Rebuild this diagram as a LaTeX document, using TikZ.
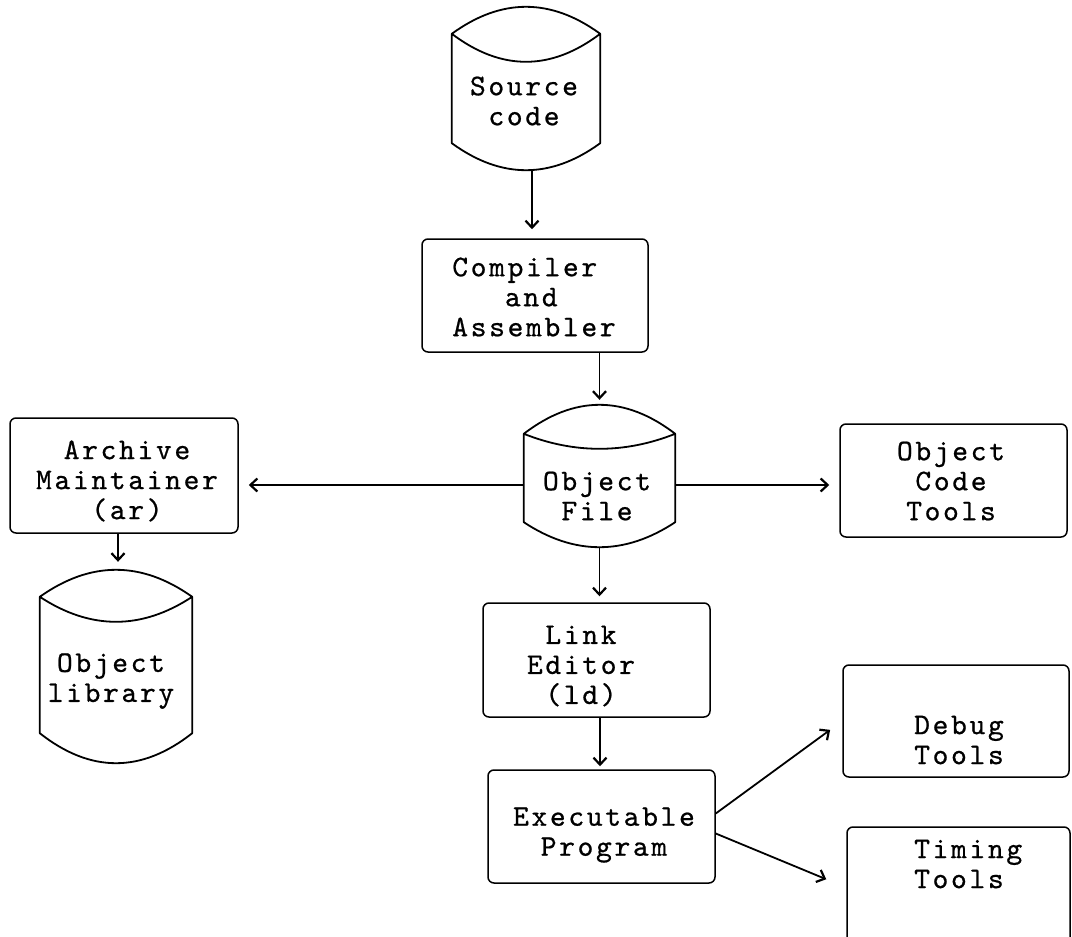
\documentclass[tikz,border=0pt]{standalone}
\usepackage{fontspec}
\usetikzlibrary{arrows.meta,calc}
\newfontfamily\twfam{lmmono10-regular.otf}[LetterSpace=9,FakeBold=0.7]
\newcommand\twfont{\twfam\fontsize{30}{30}\selectfont}
\tikzset{
 box/.style={draw, rounded corners=6pt, line width=1.5pt, inner sep=0pt},
 txt/.style={font=\twfont, align=center, inner sep=0pt},
 cylnode/.style={inner sep=0pt, draw=none},
 cylline/.style={line width=1.8pt, line join=round},
 arr/.style={line width=1.8pt, -{Straight Barb[length=7pt,width=13pt,line width=2.2pt]}},
}
% #1 name, #2 top sagitta (peak to corner), #3 inner sagitta below corner, #4 bottom sagitta
\newcommand\drawcyl[4]{%
 \draw[cylline] ($(#1.north west)+(0,#2)$) coordinate (#1-tl)
   .. controls ($(#1.north west)!0.3333!(#1.north east)+(0,{-#2/3})$)
   and ($(#1.north west)!0.6667!(#1.north east)+(0,{-#2/3})$)
   .. ($(#1.north east)+(0,#2)$) coordinate (#1-tr)
   .. controls ($(#1.north west)!0.6667!(#1.north east)+(0,{#2+4*#3/3})$)
   and ($(#1.north west)!0.3333!(#1.north east)+(0,{#2+4*#3/3})$)
   .. (#1-tl)
   -- ($(#1.south west)+(0,-#4)$)
   .. controls ($(#1.south west)!0.3333!(#1.south east)+(0,{#4/3})$)
   and ($(#1.south west)!0.6667!(#1.south east)+(0,{#4/3})$)
   .. ($(#1.south east)+(0,-#4)$) -- (#1-tr);
}
\begin{document}
\begin{tikzpicture}[x=1pt,y=-1pt]
\useasboundingbox (0,0) rectangle (1072,937);
\fill[white] (0,0) rectangle (1072,937);
\clip (0,0) rectangle (1072,937);

% cylinders
\node[cylnode, minimum width=148pt, minimum height=163pt] (src) at (526,88.5) {};
\drawcyl{src}{27}{28}{27}
\node[txt] (srct) at (524,101) {Source\\code};

\node[cylnode, minimum width=151pt, minimum height=142pt] (objf) at (599.5,476) {};
\drawcyl{objf}{29}{15}{25}
\node[txt] (objft) at (597,496) {Object\\File};

\node[cylnode, minimum width=152pt, minimum height=193pt] (lib) at (116,666.5) {};
\drawcyl{lib}{27}{25}{30}
\node[txt] (libt) at (111,681) {Object\\library};

% boxes
\node[box, minimum width=226pt, minimum height=113pt] (comp) at (535,295.5) {};
\node[txt, align=left] (compt) at (534,297) {Compiler\\\phantom{xxx}and\\Assembler};

\node[box, minimum width=228pt, minimum height=115pt] (arch) at (124,475.5) {};
\node[txt] (archt) at (127,481) {Archive\\Maintainer\\(ar)};

\node[box, minimum width=227pt, minimum height=113pt] (oct) at (953.5,480.5) {};
\node[txt] (octt) at (951,481) {Object\\Code\\Tools};

\node[box, minimum width=227pt, minimum height=114pt] (link) at (596.5,660) {};
\node[txt] (linkt) at (581,666) {Link\\Editor\\(ld)};

\node[box, minimum width=227pt, minimum height=113pt] (exe) at (601.5,826.5) {};
\node[txt] (exet) at (604,835) {Executable\\Program};

\node[box, minimum width=226pt, minimum height=112pt] (debug) at (956,721) {};
\node[txt] (debugt) at (959,740) {Debug\\Tools};

\node[box, minimum width=223pt, minimum height=133pt] (timing) at (958.5,893.5) {};
\node[txt, align=left, anchor=west] (timingt) at (914,864) {Timing\\Tools};

% connectors
\draw[arr, shorten >=9pt] ([xshift=6pt]src.south) -- ([xshift=6pt]src.south |- comp.north);
\draw[arr, shorten >=5pt] (comp.south -| objf.north) -- (objf.north);
\draw[arr, shorten >=6pt] (objf.south) -- (objf.south |- link.north);
\draw[arr, shorten >=3pt] ([xshift=3.5pt]link.south) -- ([xshift=3.5pt]link.south |- exe.north);
\draw[arr, shorten >=8pt] ([xshift=-6pt]arch.south) -- ([xshift=-6pt]arch.south |- lib.north);

\coordinate (ofl) at ($(objf.west)+(0,9)$);
\coordinate (ofr) at ($(objf.east)+(0,9)$);
\draw[arr, shorten >=10pt] (ofl) -- (ofl -| arch.east);
\draw[arr, shorten >=10pt] (ofr) -- (ofr -| oct.west);

\coordinate (exeA) at ($(exe.east)+(0,-13)$);
\coordinate (exeB) at ($(exe.east)+(0,7)$);
\coordinate (timin) at ($(timing.north west)+(-20,53)$);
\draw[arr, shorten >=15pt] (exeA) -- (debug.west);
\draw[arr] (exeB) -- (timin);
\end{tikzpicture}
\end{document}
